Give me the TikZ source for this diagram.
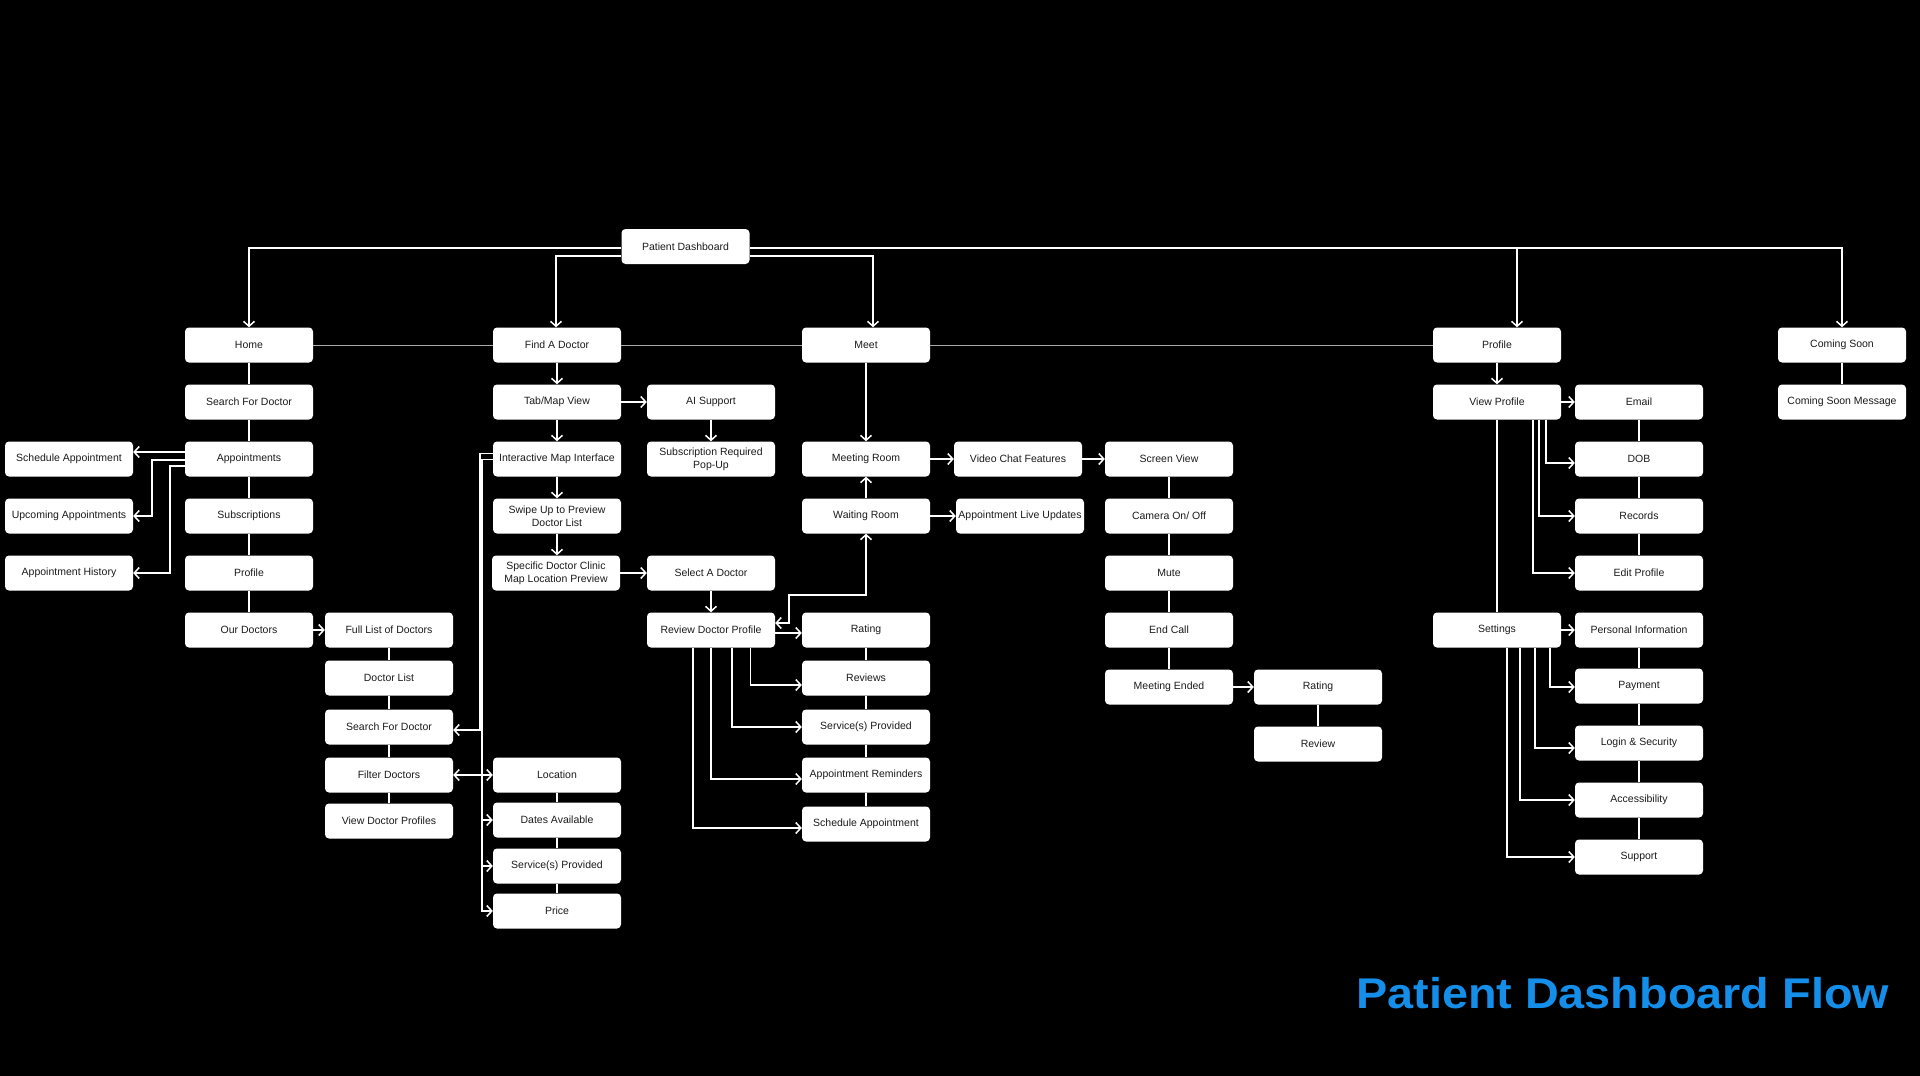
\documentclass[tikz,border=0pt]{standalone}
\usepackage{fontspec}
\usetikzlibrary{arrows.meta,calc}
\newfontfamily\boxfont{Liberation Sans}
\newfontfamily\titlefont{Liberation Sans}
\definecolor{boxtext}{RGB}{28,28,30}
\definecolor{titleblue}{RGB}{20,142,232}
\definecolor{thingray}{RGB}{170,170,170}
\tikzset{
  box/.style={fill=white, rounded corners=4pt, minimum width=128pt, minimum height=35pt,
    inner sep=0pt, align=center, text=boxtext, font=\boxfont\fontsize{10.5}{13}\selectfont},
  conn/.style={draw=white, line width=1.8pt},
  arr/.style={conn, -{Straight Barb[length=5pt,width=11pt,line width=1.5pt]}},
  dbl/.style={conn, {Straight Barb[length=5pt,width=11pt,line width=1.5pt]}-{Straight Barb[length=5pt,width=11pt,line width=1.5pt]}},
  thin/.style={draw=thingray, line width=1pt}
}
\begin{document}
\begin{tikzpicture}[x=1pt,y=-1pt]
\fill[black] (0,0) rectangle (1920,1076);
\useasboundingbox (0,0) rectangle (1920,1076);

% ---------- nodes ----------
\node[box] (pd) at (685.5,246.5) {Patient Dashboard};
\node[box] (home) at (249,345) {Home};
\node[box] (find) at (557,345) {Find A Doctor};
\node[box] (meet) at (866,345) {Meet};
\node[box] (profile) at (1497,345) {Profile};
\node[box] (coming) at (1842,345) {Coming Soon};

\node[box] (search1) at (249,402) {Search For Doctor};
\node[box] (appts) at (249,459) {Appointments};
\node[box] (subs) at (249,516) {Subscriptions};
\node[box] (prof1) at (249,573) {Profile};
\node[box] (ourdoc) at (249,630) {Our Doctors};
\node[box] (schedA) at (69,459) {Schedule Appointment};
\node[box] (upcoming) at (69,516) {Upcoming Appointments};
\node[box] (history) at (69,573) {Appointment History};

\node[box] (fulllist) at (389,630) {Full List of Doctors};
\node[box] (doclist) at (389,678) {Doctor List};
\node[box] (search2) at (389,727) {Search For Doctor};
\node[box] (filter) at (389,775) {Filter Doctors};
\node[box] (viewdoc) at (389,821) {View Doctor Profiles};

\node[box] (tab) at (557,402) {Tab/Map View};
\node[box] (imap) at (557,459) {Interactive Map Interface};
\node[box] (swipe) at (557,516) {Swipe Up to Preview\\Doctor List};
\node[box] (specific) at (556,573) {Specific Doctor Clinic\\Map Location Preview};
\node[box] (loc) at (557,775) {Location};
\node[box] (dates) at (557,820) {Dates Available};
\node[box] (serv1) at (557,866) {Service(s) Provided};
\node[box] (price) at (557,911) {Price};

\node[box] (ai) at (711,402) {AI Support};
\node[box] (subreq) at (711,459) {Subscription Required\\Pop-Up};
\node[box] (select) at (711,573) {Select A Doctor};
\node[box] (rdp) at (711,630) {Review Doctor Profile};

\node[box] (meetroom) at (866,459) {Meeting Room};
\node[box] (waiting) at (866,516) {Waiting Room};
\node[box] (rating) at (866,630) {Rating};
\node[box] (reviews) at (866,678) {Reviews};
\node[box] (serv2) at (866,727) {Service(s) Provided};
\node[box] (apprem) at (866,775) {Appointment Reminders};
\node[box] (schedB) at (866,824) {Schedule Appointment};

\node[box] (video) at (1018,459) {Video Chat Features};
\node[box] (live) at (1020,516) {Appointment Live Updates};

\node[box] (screen) at (1169,459) {Screen View};
\node[box] (camera) at (1169,516) {Camera On/ Off};
\node[box] (mute) at (1169,573) {Mute};
\node[box] (endcall) at (1169,630) {End Call};
\node[box] (ended) at (1169,687) {Meeting Ended};

\node[box] (rating2) at (1318,687) {Rating};
\node[box] (review) at (1318,744) {Review};

\node[box] (viewprof) at (1497,402) {View Profile};
\node[box] (settings) at (1497,630) {Settings};
\node[box] (email) at (1639,402) {Email};
\node[box] (dob) at (1639,459) {DOB};
\node[box] (records) at (1639,516) {Records};
\node[box] (edit) at (1639,573) {Edit Profile};
\node[box] (pi) at (1639,630) {Personal Information};
\node[box] (payment) at (1639,686) {Payment};
\node[box] (login) at (1639,743) {Login \& Security};
\node[box] (access) at (1639,800) {Accessibility};
\node[box] (support) at (1639,857) {Support};

\node[box] (comingmsg) at (1842,402) {Coming Soon Message};

\node[anchor=base west, inner sep=0pt, text=titleblue] (title) at (1356,1008)
  {\scalebox{1.088}[1]{\titlefont\bfseries\fontsize{43}{50}\selectfont Patient Dashboard Flow}};

% ---------- top-level connectors ----------
\draw[arr] ($(pd.west)+(0,1.5)$) -| (home.north);
\draw[arr] ($(pd.west)+(0,9.5)$) -| ($(find.north)+(-1,0)$);
\draw[arr] ($(pd.east)+(0,9.5)$) -| ($(meet.north)+(7,0)$);
\draw[arr] ($(pd.east)+(0,1.5)$) -| (coming.north);
\coordinate (pdr) at ($(pd.east)+(0,1.5)$);
\coordinate (profin) at ($(profile.north)+(20,0)$);
\draw[arr] (profin |- pdr) -- (profin);

\draw[thin] (home.east) -- (find.west);
\draw[thin] (find.east) -- (meet.west);
\draw[thin] (meet.east) -- (profile.west);

% ---------- Home branch ----------
\draw[conn] (home) -- (search1) -- (appts) -- (subs) -- (prof1) -- (ourdoc);
\draw[arr] ($(appts.west)+(0,-7)$) -- ($(schedA.east)+(0,-7)$);
\draw[arr] ($(appts.west)+(0,1)$) -| ($(upcoming.east)+(19,0)$) -- (upcoming.east);
\draw[arr] ($(appts.west)+(0,7)$) -| ($(history.east)+(37,0)$) -- (history.east);
\draw[arr] (ourdoc.east) -- (fulllist.west);
\draw[conn] (fulllist) -- (doclist) -- (search2) -- (filter) -- (viewdoc);

% ---------- Find A Doctor branch ----------
\draw[arr] (find.south) -- (tab.north);
\draw[arr] (tab.south) -- (imap.north);
\draw[arr] (imap.south) -- (swipe.north);
\draw[arr] (swipe.south) -- (swipe.south |- specific.north);
\draw[arr] (tab.east) -- (ai.west);
\draw[arr] (ai.south) -- (subreq.north);
\draw[arr] (specific.east) -- (select.west);
\draw[arr] (select.south) -- (rdp.north);

\draw[arr] ($(imap.west)+(0,-5.5)$) -| ($(search2.east)+(26.5,3)$) -- ($(search2.east)+(0,3)$);
\draw[arr] ($(imap.west)+(0,0.5)$) -| ($(price.west)+(-11,0)$) -- (price.west);
\draw[arr] ($(filter.east)+(29,0)$) -- (filter.east);
\draw[arr] ($(loc.west)+(-11,0)$) -- (loc.west);
\draw[arr] ($(dates.west)+(-11,0)$) -- (dates.west);
\draw[arr] ($(serv1.west)+(-11,0)$) -- (serv1.west);
\draw[conn] (loc) -- (dates) -- (serv1) -- (price);

% ---------- Review doctor profile ----------
\draw[dbl] (waiting.south) |- ($(rdp.east)+(14,-35)$) |- ($(rdp.east)+(0,-7)$);
\draw[arr] ($(rdp.east)+(0,3)$) -- ($(rating.west)+(0,3)$);
\draw[arr] ($(rdp.south)+(39.5,0)$) |- ($(reviews.west)+(0,7)$);
\draw[arr] ($(rdp.south)+(21,0)$) |- (serv2.west);
\draw[arr] (rdp.south) |- ($(apprem.west)+(0,4)$);
\draw[arr] ($(rdp.south)+(-18,0)$) |- ($(schedB.west)+(0,4)$);
\draw[conn] (rating) -- (reviews) -- (serv2) -- (apprem) -- (schedB);

% ---------- Meet branch ----------
\draw[arr] (meet.south) -- (meetroom.north);
\draw[arr] (waiting.north) -- (meetroom.south);
\draw[arr] (meetroom.east) -- (video.west);
\draw[arr] (video.east) -- (screen.west);
\draw[arr] (waiting.east) -- (live.west);
\draw[conn] (screen) -- (camera) -- (mute) -- (endcall) -- (ended);
\draw[arr] (ended.east) -- (rating2.west);
\draw[conn] (rating2) -- (review);

% ---------- Profile branch ----------
\draw[arr] (profile.south) -- (viewprof.north);
\draw[arr] (viewprof.east) -- (email.west);
\draw[arr] ($(viewprof.south)+(48.7,0)$) |- ($(dob.west)+(0,4)$);
\draw[arr] ($(viewprof.south)+(42,0)$) |- (records.west);
\draw[arr] ($(viewprof.south)+(35.7,0)$) |- (edit.west);
\draw[conn] (viewprof.south) -- (settings.north);
\draw[conn] (email) -- (dob) -- (records) -- (edit);

\draw[arr] (settings.east) -- (pi.west);
\draw[arr] ($(settings.south)+(53,0)$) |- ($(payment.west)+(0,1)$);
\draw[arr] ($(settings.south)+(37.7,0)$) |- ($(login.west)+(0,5)$);
\draw[arr] ($(settings.south)+(23,0)$) |- (access.west);
\draw[arr] ($(settings.south)+(9.7,0)$) |- (support.west);
\draw[conn] (pi) -- (payment) -- (login) -- (access) -- (support);

% ---------- Coming soon ----------
\draw[conn] (coming) -- (comingmsg);
\end{tikzpicture}
\end{document}
